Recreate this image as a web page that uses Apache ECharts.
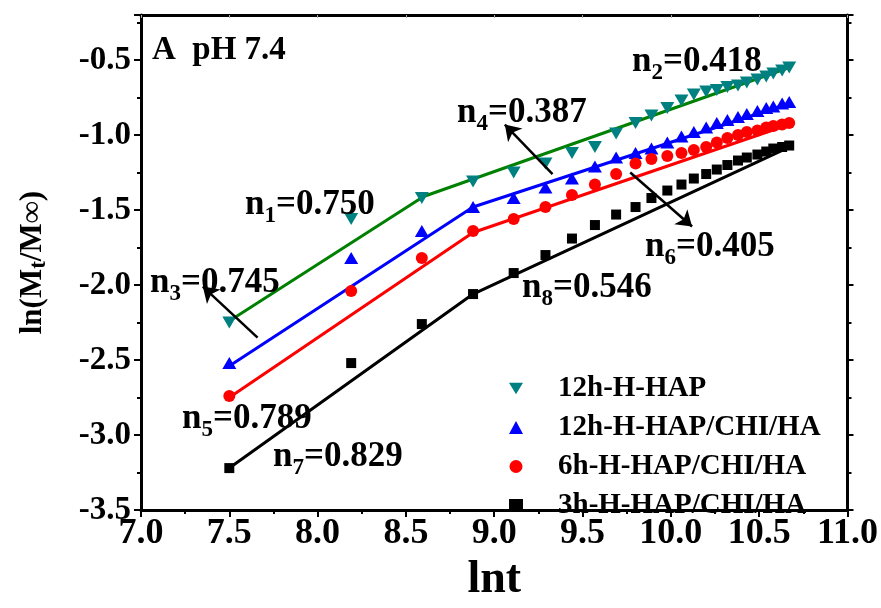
<!DOCTYPE html>
<html>
<head>
<meta charset="utf-8">
<script src="https://cdn.jsdelivr.net/npm/echarts@6/dist/echarts.min.js"></script>
<style>
  html, body { margin: 0; padding: 0; background: #fff; }
  #main { width: 881px; height: 608px; }
</style>
</head>
<body>
<div id="main"></div>
<script>
// lnt values of the release time points (0.5 h steps)
const lnt = [7.50, 8.19, 8.59, 8.88, 9.11, 9.29, 9.44, 9.57, 9.69, 9.80, 9.89, 9.98,
             10.06, 10.13, 10.20, 10.26, 10.32, 10.38, 10.43, 10.49, 10.54, 10.58, 10.63, 10.67];

// ln(Mt/Minf)
const hap12 = [-2.25, -1.56, -1.42, -1.31, -1.25, -1.19, -1.12, -1.08, -0.99, -0.92, -0.87, -0.82,
               -0.77, -0.73, -0.71, -0.70, -0.68, -0.67, -0.65, -0.63, -0.61, -0.59, -0.57, -0.55];
const chi12 = [-2.52, -1.82, -1.64, -1.48, -1.42, -1.35, -1.29, -1.21, -1.15, -1.12, -1.09, -1.05,
               -1.01, -0.98, -0.95, -0.92, -0.90, -0.88, -0.86, -0.84, -0.82, -0.81, -0.79, -0.78];
const chi6 = [-2.74, -2.04, -1.82, -1.64, -1.56, -1.48, -1.40, -1.33, -1.26, -1.19, -1.16, -1.14,
              -1.12, -1.10, -1.08, -1.05, -1.02, -1.00, -0.98, -0.97, -0.95, -0.94, -0.93, -0.92];
const chi3 = [-3.22, -2.52, -2.26, -2.06, -1.92, -1.80, -1.69, -1.60, -1.53, -1.48, -1.42, -1.37,
              -1.33, -1.29, -1.26, -1.23, -1.20, -1.17, -1.15, -1.13, -1.11, -1.09, -1.08, -1.07];

// two-segment linear fits [lnt, value]
const fitHap12 = [[7.50, -2.24], [8.60, -1.41], [10.67, -0.55]];
const fitChi12 = [[7.50, -2.54], [8.88, -1.48], [10.67, -0.79]];
const fitChi6 = [[7.50, -2.75], [8.88, -1.65], [10.67, -0.93]];
const fitChi3 = [[7.50, -3.22], [8.88, -2.06], [10.67, -1.08]];

const names = ['12h-H-HAP', '12h-H-HAP/CHI/HA', '6h-H-HAP/CHI/HA', '3h-H-HAP/CHI/HA'];

// arrows [from, to] in data coordinates
const arrows = [
  [[9.33, -1.26], [9.06, -0.93]],
  [[9.77, -1.25], [10.12, -1.61]],
  [[7.66, -2.35], [7.35, -2.01]]
];

const FONT = 'Liberation Serif';
const pair = (ys) => lnt.map((x, i) => [x, ys[i]]);

const chart = echarts.init(document.getElementById('main'));

function scatter(name, data, color, symbol, size) {
  return {
    name: name, type: 'scatter', data: pair(data), symbol: symbol, symbolSize: size,
    itemStyle: { color: color, opacity: 1 }, z: 3
  };
}
function fit(data, color) {
  return {
    type: 'line', data: data, symbol: 'none', silent: true,
    lineStyle: { color: color, width: 3 }, z: 2
  };
}

const subRich = {
  m: { fontFamily: FONT, fontWeight: 'bold', fontSize: 35, lineHeight: 35, verticalAlign: 'top', color: '#000' },
  s: { fontFamily: FONT, fontWeight: 'bold', fontSize: 23, lineHeight: 23, padding: [17, 0, 0, 0], verticalAlign: 'top', color: '#000' }
};
function note(n, val, x, y) {
  return {
    type: 'text', x: x, y: y, z: 10,
    style: { text: '{m|n}{s|' + n + '}{m|=' + val + '}', rich: subRich, verticalAlign: 'middle', align: 'left' }
  };
}

const axisCommon = {
  type: 'value',
  splitLine: { show: false },
  axisLine: { show: true, onZero: false, lineStyle: { color: '#000', width: 3 } },
  axisTick: { show: true, length: 7, lineStyle: { color: '#000', width: 2 } },
  minorTick: { show: true, splitNumber: 2, length: 4, lineStyle: { color: '#000', width: 2 } }
};

const option = {
  animation: false,
  backgroundColor: '#fff',
  grid: { left: 141, right: 33, top: 15, bottom: 87 },
  legend: {
    data: names,
    orient: 'vertical',
    left: 509, top: 374, padding: 0,
    itemWidth: 14, itemHeight: 13, itemGap: 10,
    textStyle: { fontFamily: FONT, fontWeight: 'bold', fontSize: 29, lineHeight: 28, color: '#000', padding: [0, 0, 0, 30] }
  },
  xAxis: [
    Object.assign({}, axisCommon, {
      min: 7, max: 11, interval: 0.5, position: 'bottom',
      name: 'lnt', nameLocation: 'middle', nameGap: 36,
      nameTextStyle: { fontFamily: FONT, fontWeight: 'bold', fontSize: 46, color: '#000' },
      axisLabel: { fontFamily: FONT, fontWeight: 'bold', fontSize: 36, color: '#000', margin: 6,
        formatter: (v) => v.toFixed(1) }
    }),
    Object.assign({}, axisCommon, {
      min: 7, max: 11, interval: 0.5, position: 'top',
      axisTick: { show: true, inside: true, length: 3, lineStyle: { color: '#aaa', width: 1 } },
      minorTick: { show: false },
      axisLabel: { show: false }
    })
  ],
  yAxis: [
    Object.assign({}, axisCommon, {
      min: -3.5, max: -0.2, interval: 0.5, position: 'left',
      name: 'ln(M{s|t}/M∞)', nameLocation: 'middle', nameGap: 90,
      nameTextStyle: {
        fontFamily: FONT, fontWeight: 'bold', fontSize: 31, color: '#000',
        rich: { s: { fontFamily: FONT, fontWeight: 'bold', fontSize: 23, color: '#000', padding: [14, 0, 0, 0] } }
      },
      axisLabel: { fontFamily: FONT, fontWeight: 'bold', fontSize: 33, color: '#000', margin: 10,
        showMaxLabel: false, formatter: (v) => v.toFixed(1) }
    }),
    Object.assign({}, axisCommon, {
      min: -3.5, max: -0.2, interval: 0.5, position: 'right',
      axisTick: { show: true, length: 6, lineStyle: { color: '#000', width: 2 } },
      minorTick: { show: true, splitNumber: 2, length: 4, lineStyle: { color: '#000', width: 2 } },
      axisLabel: { show: false }
    })
  ],
  series: [
    fit(fitHap12, '#008000'),
    fit(fitChi12, '#0000ff'),
    fit(fitChi6, '#ff0000'),
    fit(fitChi3, '#000000'),
    scatter(names[0], hap12, '#008080', 'path://M0,0 L12,0 L6,10 Z', [14, 12]),
    scatter(names[1], chi12, '#0000ff', 'triangle', [14, 12]),
    scatter(names[2], chi6, '#ff0000', 'circle', 12),
    scatter(names[3], chi3, '#000000', 'rect', 10),
    {
      type: 'line', data: [], silent: true,
      markLine: {
        silent: true, animation: false,
        symbol: ['none', 'arrow'], symbolSize: 15,
        label: { show: false },
        lineStyle: { color: '#000', width: 2.5, type: 'solid' },
        data: arrows.map(a => [{ coord: a[0] }, { coord: a[1] }])
      }
    }
  ],
  graphic: [
    {
      type: 'text', x: 152, y: 50, z: 10,
      style: { text: 'A  pH 7.4', fontFamily: FONT, fontWeight: 'bold', fontSize: 33, fill: '#000', verticalAlign: 'middle' }
    },
    note(1, '0.750', 245, 205),
    note(2, '0.418', 632, 62),
    note(3, '0.745', 150, 283),
    note(4, '0.387', 457, 113),
    note(5, '0.789', 182, 419),
    note(6, '0.405', 645, 247),
    note(7, '0.829', 273, 457),
    note(8, '0.546', 522, 288)
  ]
};

chart.setOption(option);
</script>
</body>
</html>
